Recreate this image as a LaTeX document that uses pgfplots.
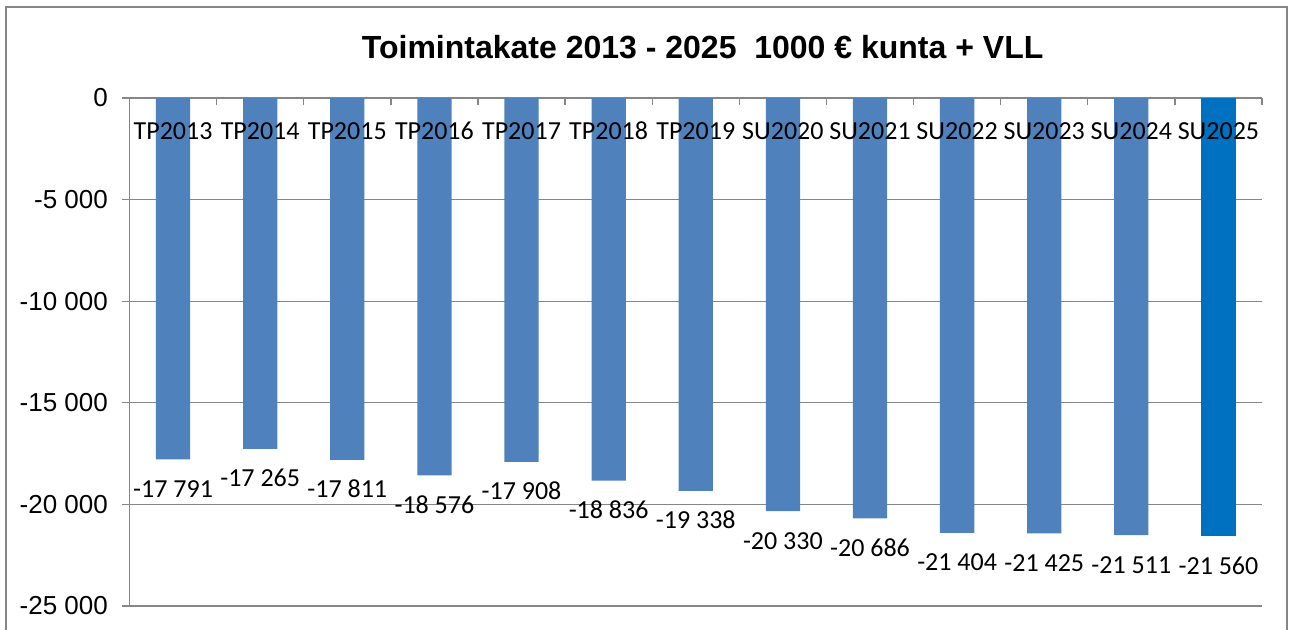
\documentclass[border=0pt]{standalone}
\usepackage{fontspec}
\setmainfont{Carlito}
\newfontfamily\arialf{Liberation Sans}
\usepackage{pgfplots}
\pgfplotsset{compat=1.18}
\definecolor{barblue}{RGB}{79,129,189}
\definecolor{lastblue}{RGB}{0,112,192}
\definecolor{axgray}{RGB}{134,134,134}
\pgfplotsset{
  frameaxis/.style={
    at={(97.125pt,399pt)}, anchor=north west,
    width=849.4pt, height=381pt, scale only axis,
    xmin=-0.5, xmax=12.5, ymin=-25000, ymax=0,
    clip=false,
  },
}
\begin{document}
\begin{tikzpicture}
\useasboundingbox (0,0) rectangle (967.5pt,472.5pt);
\draw[axgray, line width=1pt] (4.5pt,-5pt) rectangle (965.25pt,467.25pt);
\node[font=\arialf\bfseries\fontsize{24}{28}\selectfont, anchor=center] at (527pt,437.25pt) {Toimintakate 2013 - 2025\ \ 1000 € kunta + VLL};
\begin{axis}[
    frameaxis,
    ybar, bar width=25.7pt,
    axis x line*=top, axis y line*=left,
    axis line style={axgray, line width=1pt},
    xtick={0,...,12},
    xticklabels={},
    major x tick style={draw=none},
    minor xtick={-0.5,0.5,...,12.5},
    minor x tick style={axgray, line width=1pt},
    minor tick length=5.5pt,
    xtick align=inside,
    scaled y ticks=false,
    ytick={-25000,-20000,-15000,-10000,-5000,0},
    yticklabels={-25 000,-20 000,-15 000,-10 000,-5 000,0},
    ytick align=outside,
    major y tick style={axgray, line width=1pt},
    major tick length=6pt,
    yticklabel style={font=\arialf\fontsize{19.5}{22}\selectfont, anchor=east, inner sep=0pt, xshift=-10pt},
    ymajorgrids, grid style={axgray, line width=1pt},
    point meta=explicit symbolic,
    nodes near coords={\pgfplotspointmeta},
    every node near coord/.append style={font=\fontsize{19.5}{22}\selectfont, anchor=base, inner sep=0pt, yshift=-28.5pt, text=black},
]
\addplot[fill=barblue, draw=none, bar shift=0pt] coordinates {
  (0,-17791) [-17 791]
  (1,-17265) [-17 265]
  (2,-17811) [-17 811]
  (3,-18576) [-18 576]
  (4,-17908) [-17 908]
  (5,-18836) [-18 836]
  (6,-19338) [-19 338]
  (7,-20330) [-20 330]
  (8,-20686) [-20 686]
  (9,-21404) [-21 404]
  (10,-21425) [-21 425]
  (11,-21511) [-21 511]
};
\addplot[fill=lastblue, draw=none, bar shift=0pt] coordinates {
  (12,-21560) [-21 560]
};
\end{axis}
% second axis on the same frame: category names drawn over the bars
\begin{axis}[
    frameaxis,
    axis x line*=top, hide y axis,
    axis line style={draw=none},
    xtick={0,...,12},
    xticklabels={TP2013,TP2014,TP2015,TP2016,TP2017,TP2018,TP2019,SU2020,SU2021,SU2022,SU2023,SU2024,SU2025},
    x tick style={draw=none},
    xticklabel style={font=\fontsize{19.5}{22}\selectfont, anchor=base, inner sep=0pt, yshift=-31.5pt},
]
\end{axis}
\end{tikzpicture}
\end{document}
